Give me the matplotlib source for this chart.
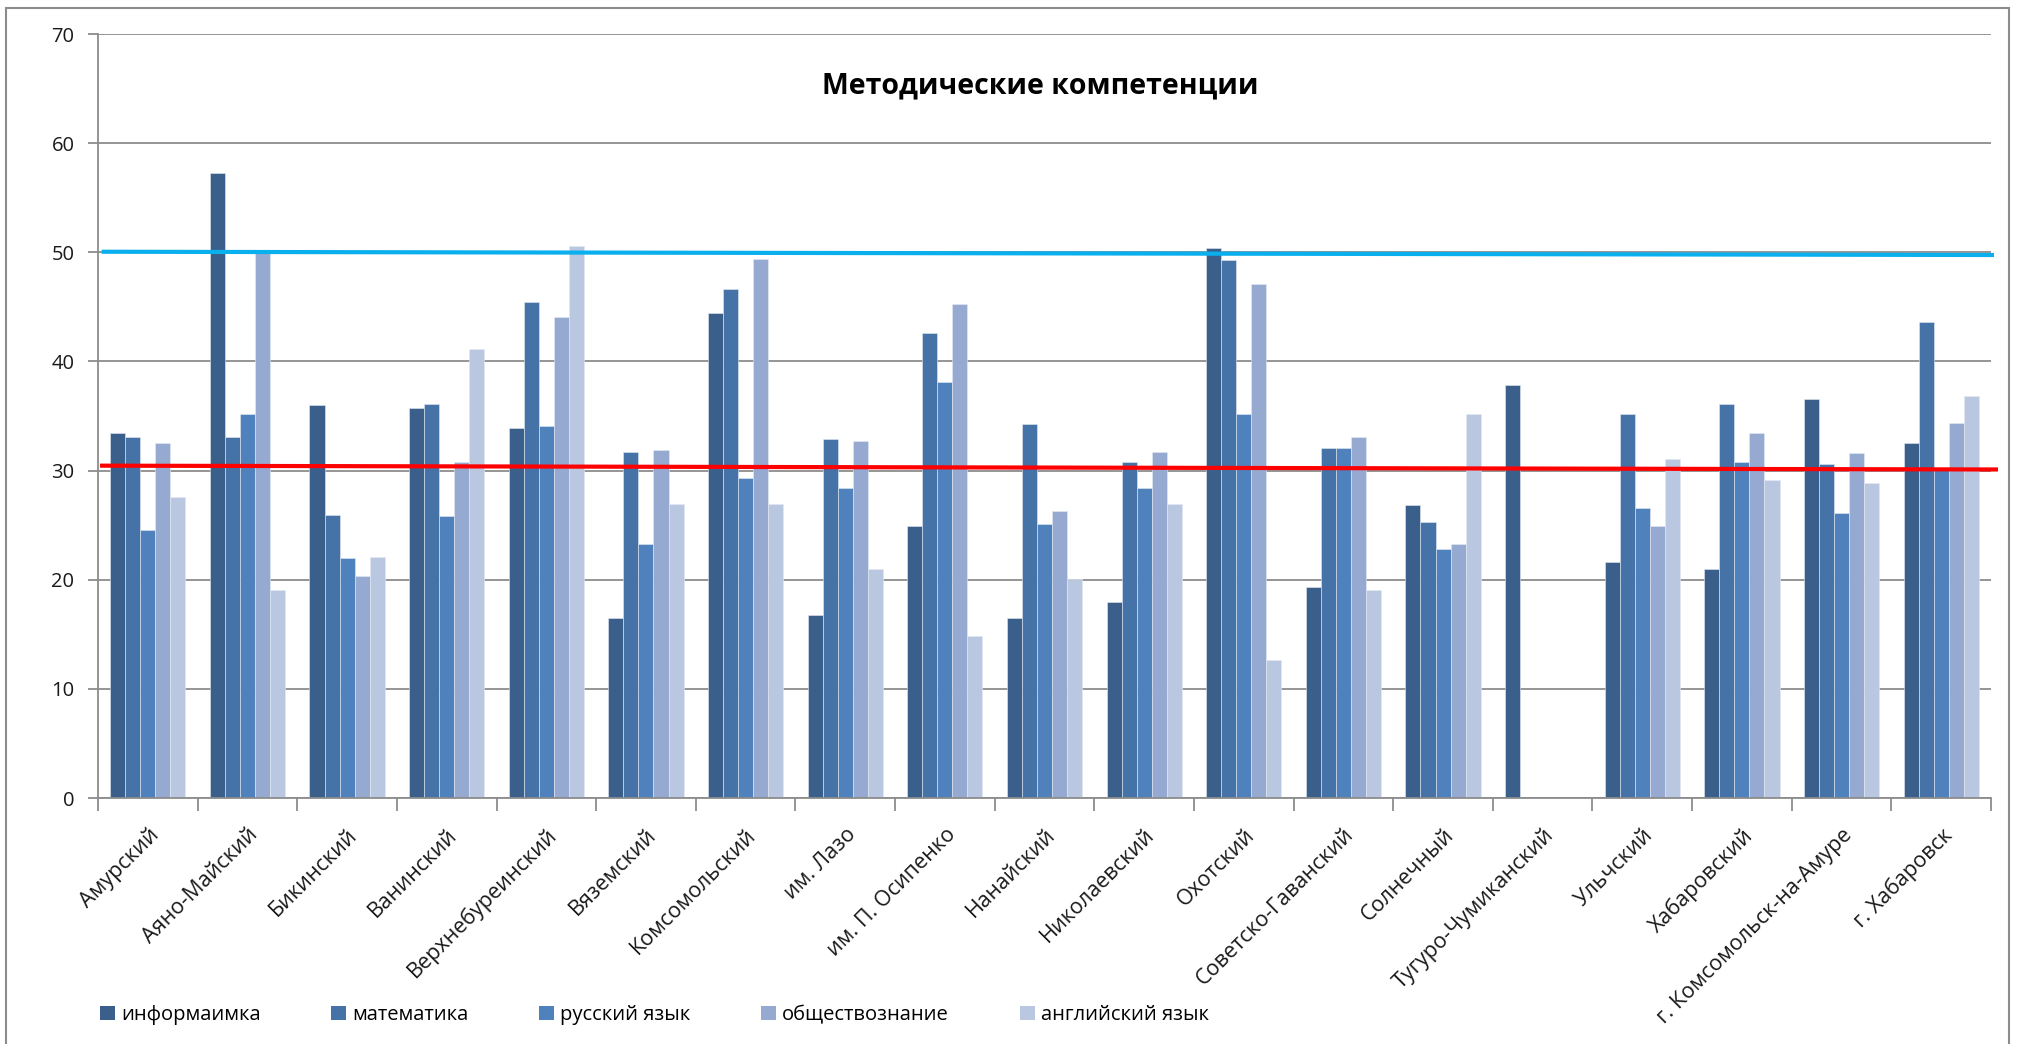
import matplotlib
matplotlib.use('Agg')
import matplotlib.pyplot as plt
import numpy as np
from matplotlib.patches import Rectangle, Patch

plt.rcParams['font.family'] = ['Open Sans', 'DejaVu Sans']

categories = ['Амурский', 'Аяно-Майский', 'Бикинский', 'Ванинский', 'Верхнебуреинский',
              'Вяземский', 'Комсомольский', 'им. Лазо', 'им. П. Осипенко', 'Нанайский',
              'Николаевский', 'Охотский', 'Советско-Гаванский', 'Солнечный',
              'Тугуро-Чумиканский', 'Ульчский', 'Хабаровский', 'г. Комсомольск-на-Амуре',
              'г. Хабаровск']
series_names = ['информаимка', 'математика', 'русский язык', 'обществознание', 'английский язык']

informatika = [33.4, 57.3, 36.0, 35.7, 33.9, 16.5, 44.4, 16.8, 24.9, 16.5,
               18.0, 50.4, 19.3, 26.8, 37.8, 21.6, 21.0, 36.6, 32.5]
matematika = [33.1, 33.1, 25.9, 36.1, 45.4, 31.7, 46.6, 32.9, 42.6, 34.3,
              30.8, 49.3, 32.1, 25.3, None, 35.2, 36.1, 30.6, 43.6]
russkiy = [24.6, 35.2, 22.0, 25.8, 34.1, 23.3, 29.3, 28.4, 38.1, 25.1,
           28.4, 35.2, 32.1, 22.8, None, 26.6, 30.8, 26.1, 30.2]
obshestvo = [32.5, 50.1, 20.3, 30.8, 44.1, 31.9, 49.4, 32.7, 45.3, 26.3,
             31.7, 47.1, 33.1, 23.3, None, 24.9, 33.4, 31.6, 34.4]
angliyskiy = [27.6, 19.1, 22.1, 41.1, 50.6, 26.9, 26.9, 21.0, 14.8, 20.1,
              26.9, 12.6, 19.1, 35.2, None, 31.1, 29.1, 28.9, 36.8]

# reference lines (start value, end value)
upper_line = [50.05, 49.75]
mean_line = [30.45, 30.1]

yticks = [0, 10, 20, 30, 40, 50, 60, 70]

colors = ['#3a5f8b', '#4572a7', '#4f81bd', '#95a9d1', '#bac7e0']

W, H = 2018, 1044
fig = plt.figure(figsize=(W / 100, H / 100), dpi=100)
ax = fig.add_axes([98 / W, 1 - 798 / H, (1991 - 98) / W, (798 - 34) / H])

all_series = [informatika, matematika, russkiy, obshestvo, angliyskiy]
n = len(categories)
x = np.arange(n)
bw = 0.151
for i, (vals, name, c) in enumerate(zip(all_series, series_names, colors)):
    v = np.array([np.nan if a is None else a for a in vals], dtype=float)
    ax.bar(x + (i - 2) * bw, v, width=bw, color=c, label=name, zorder=2,
           edgecolor='#e4e9f2', linewidth=0.4)

ax.set_xlim(-0.5, n - 0.5)
ax.set_ylim(0, 70)
ax.set_yticks(yticks)
ax.set_yticklabels([str(t) for t in yticks], fontsize=14.5, color='#1a1a1a')
ax.yaxis.grid(True, color='#8c8c8c', linewidth=1.3, zorder=0)
ax.set_axisbelow(True)

ax.set_xticks(x)
ax.set_xticklabels(categories, rotation=45, ha='right', va='top',
                   rotation_mode='anchor', fontsize=15.5, color='#1a1a1a')
ax.set_xticks(np.arange(-0.5, n, 1), minor=True)
ax.tick_params(axis='x', which='major', length=0, pad=19)
ax.tick_params(axis='x', which='minor', length=9, width=1.3, color='#8c8c8c', direction='out')
ax.tick_params(axis='y', length=7, width=1.3, color='#8c8c8c', direction='out', pad=10)

for s in ['top', 'right']:
    ax.spines[s].set_visible(False)
for s in ['left', 'bottom']:
    ax.spines[s].set_color('#8c8c8c')
    ax.spines[s].set_linewidth(1.3)

# reference lines
ax.plot([-0.463, n - 0.47], upper_line, color='#0ab0ee', linewidth=3, zorder=4,
        clip_on=False, solid_capstyle='butt')
ax.plot([-0.48, n - 0.43], mean_line, color='#ff0000', linewidth=3, zorder=4,
        clip_on=False, solid_capstyle='butt')

fig.text(1040 / W, 1 - 86 / H, 'Методические компетенции', ha='center', va='center',
         fontsize=20.5, fontweight='bold', color='#000000')

handles = [Patch(facecolor=c, edgecolor='none') for c in colors]
fig.legend(handles, series_names, loc='center left', bbox_to_anchor=(82 / W, 1 - 1015 / H),
           ncol=5, frameon=False, fontsize=14.5, handlelength=0.75, handleheight=0.75,
           handletextpad=0.3, columnspacing=3.5)

# chart border
fig.patches.append(Rectangle((6 / W, -0.01), (2009 - 6) / W, (1044 - 8) / H + 0.01,
                             transform=fig.transFigure, fill=False,
                             edgecolor='#8c8c8c', linewidth=1.5))

fig.savefig('out.png', dpi=100, facecolor='white')
